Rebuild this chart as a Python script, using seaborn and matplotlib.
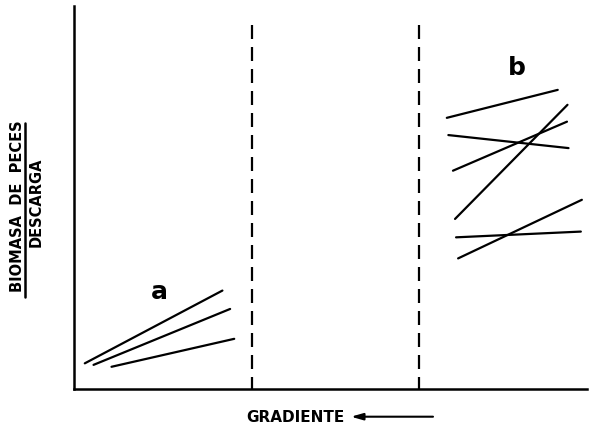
import matplotlib
matplotlib.use("Agg")
import matplotlib.pyplot as plt
from matplotlib.lines import Line2D
import seaborn as sns
import pandas as pd

# Group a segments (start/end, relative units 0-100)
a_x0 = [2.2, 3.9, 7.4]
a_y0 = [6.7, 6.3, 5.8]
a_x1 = [29.0, 30.5, 31.3]
a_y1 = [25.7, 20.9, 13.1]

# Group b segments
b_x0 = [72.7, 74.3, 73.9, 73.0, 74.5, 74.9]
b_y0 = [70.8, 44.4, 57.0, 66.3, 39.6, 34.1]
b_x1 = [94.3, 96.2, 96.1, 96.4, 98.8, 99.0]
b_y1 = [78.1, 74.2, 69.8, 62.9, 41.1, 49.4]

# Zone boundaries (dashed)
boundaries = [34.8, 67.3]
boundary_top = 95.0

group_labels = ["a", "b"]
label_x = [16.8, 86.4]
label_y = [25.3, 83.8]

rows = []
seg = 0
for x0s, y0s, x1s, y1s in [(a_x0, a_y0, a_x1, a_y1), (b_x0, b_y0, b_x1, b_y1)]:
    for x0, y0, x1, y1 in zip(x0s, y0s, x1s, y1s):
        rows.append({"x": x0, "y": y0, "seg": seg})
        rows.append({"x": x1, "y": y1, "seg": seg})
        seg += 1
df = pd.DataFrame(rows)

sns.set_style("white")
plt.rcParams['font.family'] = ['DejaVu Sans']
plt.rcParams['text.color'] = 'black'

fig = plt.figure(figsize=(6, 4.32), dpi=100)
ax = fig.add_axes([73.5 / 600, 1 - 389 / 432, (587 - 73.5) / 600, (389 - 6) / 432])

sns.lineplot(data=df, x="x", y="y", units="seg", estimator=None, sort=False,
             color="black", linewidth=1.6, ax=ax, legend=False)

for bx in boundaries:
    ax.plot([bx, bx], [boundary_top, 0], color="black", linewidth=1.6,
            linestyle=(0, (6.3, 3.6)))

for lab, lx, ly in zip(group_labels, label_x, label_y):
    ax.text(lx, ly, lab, fontsize=18, fontweight="heavy", ha="center", va="center",
            color="black")

ax.set_xlim(0, 100)
ax.set_ylim(0, 100)
ax.set_xticks([])
ax.set_yticks([])
ax.set_xlabel("")
ax.set_ylabel("")
for s in ["top", "right"]:
    ax.spines[s].set_visible(False)
for s in ["left", "bottom"]:
    ax.spines[s].set_color("black")
    ax.spines[s].set_linewidth(1.8)

# Y label as a fraction
fig.text(17.5 / 600, 1 - 206 / 432, "BIOMASA  DE  PECES", rotation=90, fontsize=10.5,
         fontweight="bold", ha="center", va="center", color="black")
fig.text(36 / 600, 1 - 202 / 432, "DESCARGA", rotation=90, fontsize=10.5,
         fontweight="bold", ha="center", va="center", color="black")
fig.add_artist(Line2D([25 / 600, 25 / 600], [1 - 123 / 432, 1 - 297 / 432],
                      transform=fig.transFigure, color="black", linewidth=1.8))

# X label with arrow
fig.text(295 / 600, 1 - 418 / 432, "GRADIENTE", fontsize=11, fontweight="bold",
         ha="center", va="center", color="black")
ax.annotate("", xy=(351 / 600, 1 - 416.7 / 432), xytext=(433 / 600, 1 - 416.7 / 432),
            xycoords="figure fraction", textcoords="figure fraction",
            arrowprops=dict(arrowstyle="-|>,head_length=0.7,head_width=0.2",
                            color="black", lw=1.5, mutation_scale=10,
                            shrinkA=0, shrinkB=0))

fig.savefig("out.png", dpi=100)
